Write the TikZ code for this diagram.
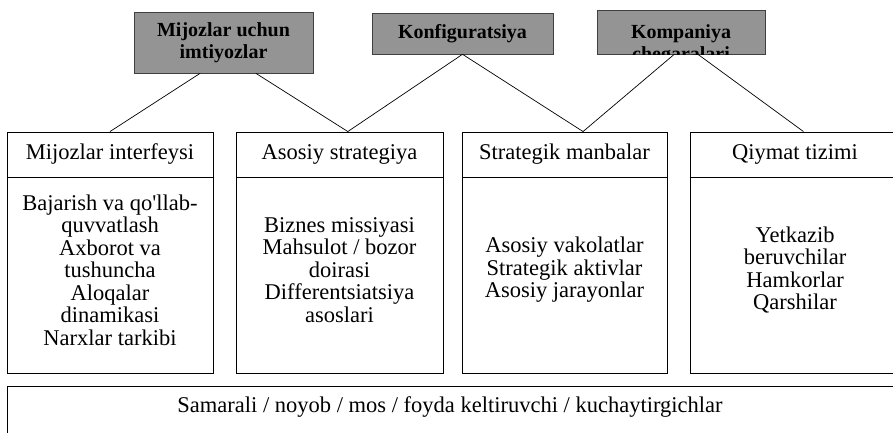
\documentclass[tikz,border=0pt]{standalone}
\usepackage{fontspec}
\setmainfont{Liberation Serif}
\usetikzlibrary{calc}
\begin{document}
\begin{tikzpicture}[x=1pt,y=-1pt,
  tag/.style={draw=black!75, fill=black!42, line width=0.6pt, inner sep=0pt,
    font=\fontsize{20}{22}\selectfont\bfseries, align=center},
  tagtext/.style={font=\fontsize{20}{22}\selectfont\bfseries, inner sep=0pt},
  panel/.style={draw=black, line width=0.9pt, inner sep=0pt},
  body/.style={font=\fontsize{22.5}{22.5}\selectfont, align=center, inner sep=0pt},
  link/.style={draw=black, line width=0.7pt}]
\clip (0,0) rectangle (893,433);
\fill[white] (0,0) rectangle (893,433);

% grey tags along the top
\node[tag, minimum width=179pt, minimum height=61pt] (g1) at (223.5,42.5)
  {Mijozlar uchun\\imtiyozlar};
\node[tag, minimum width=181pt, minimum height=41pt] (g2) at (462.5,33.5)
  {Konfiguratsiya};
\node[tag, minimum width=168pt, minimum height=44pt] (g3) at (681,32) {};
\begin{scope}
  \clip (g3.south west) rectangle (g3.north east);
  \node[tagtext, anchor=base] (g3a) at (681,39) {Kompaniya};
  \node[tagtext, anchor=base] (g3b) at (681,61) {chegaralari};
\end{scope}

% column headers
\node[panel, minimum width=206pt, minimum height=45pt] (h1) at (110,154.5) {};
\node[panel, minimum width=207pt, minimum height=45pt] (h2) at (339.5,154.5) {};
\node[panel, minimum width=205pt, minimum height=45pt] (h3) at (564.5,154.5) {};
\node[panel, minimum width=210pt, minimum height=45pt] (h4) at (795,154.5) {};
\node[body] (h1t) at (h1.center) {Mijozlar interfeysi};
\node[body] (h2t) at (h2.center) {Asosiy strategiya};
\node[body] (h3t) at (h3.center) {Strategik manbalar};
\node[body] (h4t) at (h4.center) {Qiymat tizimi};

% column bodies
\node[panel, minimum width=206pt, minimum height=196pt] (b1) at (110,275) {};
\node[panel, minimum width=207pt, minimum height=196pt] (b2) at (339.5,275) {};
\node[panel, minimum width=205pt, minimum height=196pt] (b3) at (564.5,275) {};
\node[panel, minimum width=210pt, minimum height=196pt] (b4) at (795,275) {};
\node[body] (b1t) at (110,270) {Bajarish va qo\textquotesingle llab-\\quvvatlash\\Axborot va\\tushuncha\\Aloqalar\\dinamikasi\\Narxlar tarkibi};
\node[body] (b2t) at (339.5,270) {Biznes missiyasi\\Mahsulot / bozor\\doirasi\\Differentsiatsiya\\asoslari};
\node[body] (b3t) at (564.5,270) {Asosiy vakolatlar\\Strategik aktivlar\\Asosiy jarayonlar};
\node[body] (b4t) at (795,270) {Yetkazib\\beruvchilar\\Hamkorlar\\Qarshilar};

% base strip
\node[panel, minimum width=893pt, minimum height=60pt] (base) at (453.5,416) {};
\node[body] (baset) at (450,407) {Samarali / noyob / mos / foyda keltiruvchi / kuchaytirgichlar};

% meeting points on the header tops
\coordinate (p2) at ($(h2.north west)!0.54!(h2.north east)$);
\coordinate (p3) at ($(h3.north west)!0.59!(h3.north east)$);
\coordinate (p4) at ($(h4.north west)!0.54!(h4.north east)$);

% connectors
\draw[link] ($(g1.south west)!0.37!(g1.south east)$) -- (h1.north);
\draw[link] ($(g1.south west)!0.68!(g1.south east)$) -- (p2);
\draw[link] (g2.south) -- (p2);
\draw[link] (g2.south) -- (p3);
\draw[link] ($(g3.south west)!0.46!(g3.south east)$) -- (p3);
\draw[link] ($(g3.south west)!0.60!(g3.south east)$) -- (p4);
\end{tikzpicture}
\end{document}
